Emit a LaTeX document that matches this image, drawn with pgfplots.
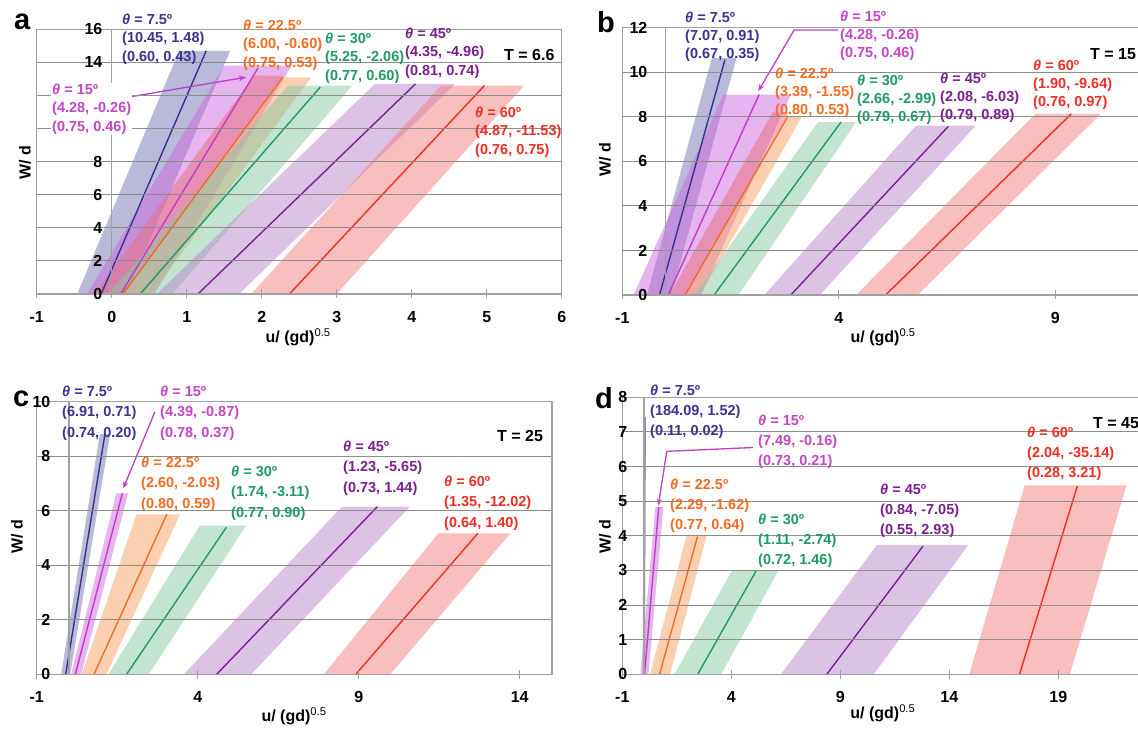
\documentclass[border=0pt]{standalone}
\usepackage{fontspec}
\setmainfont{Liberation Sans}
\usepackage{pgfplots}
\pgfplotsset{compat=1.18}
\usetikzlibrary{arrows.meta}
\definecolor{c1}{HTML}{38308C}
\definecolor{c1t}{HTML}{3C3291}
\definecolor{c2}{HTML}{C23BC9}
\definecolor{c2t}{HTML}{C346C3}
\definecolor{c3}{HTML}{F26B21}
\definecolor{c4}{HTML}{1F9A64}
\definecolor{c5}{HTML}{7B1F8E}
\definecolor{c6}{HTML}{EE2D24}
\definecolor{f1}{HTML}{7373B5}
\definecolor{f2}{HTML}{CD69DD}
\definecolor{f3}{HTML}{F7A161}
\definecolor{f3p}{HTML}{EC6E7A}
\definecolor{f4}{HTML}{85C9A1}
\definecolor{f5}{HTML}{B987CD}
\definecolor{f6}{HTML}{F37F7F}
\definecolor{gridc}{HTML}{8C8C8C}
\definecolor{framec}{HTML}{A0A0A0}
\def\annsp{18.5pt}
\newcommand\annfont{\bfseries\fontsize{14.5}{\annsp}\selectfont}
\newcommand{\ann}[6]{\node[anchor=west,align=left,inner sep=0pt,text=#3,font=\annfont] at (#1pt,#2pt) {{\itshape θ} = #4º\\#5\\#6};}
\pgfplotsset{
  panel/.style={
    scale only axis, anchor=south west, axis on top,
    xmin=-1, ymin=0,
    axis line style={framec, line width=1.4pt},
    ymajorgrids, major grid style={gridc, line width=1.1pt},
    xtick pos=bottom, ytick style={draw=none},
    xtick style={framec, line width=1pt},
    tick align=center, major tick length=9pt,
    /pgf/number format/assume math mode=true,
    tick label style={font=\bfseries\fontsize{16}{17}\selectfont},
    xticklabel style={inner sep=0pt, anchor=north, yshift=-12.5pt},
    yticklabel style={inner sep=0pt, anchor=east},
    extra x ticks={0}, extra x tick labels={},
    extra x tick style={grid=major, major tick length=0pt, major grid style={framec, line width=1.3pt}},
    xlabel={u/ (gd)\textsuperscript{\mdseries 0.5}}, ylabel={W/ d},
    label style={font=\bfseries\fontsize{16}{18}\selectfont},
    xlabel style={anchor=center}, ylabel style={anchor=center},
  },
  band/.style={draw=none, fill opacity=0.5},
  dline/.style={line width=1.4pt},
}
\begin{document}
\begin{tikzpicture}
\useasboundingbox (0,0) rectangle (1138pt,731pt);
\clip (0,0) rectangle (1138pt,731pt);

% ---------------- panel a ----------------
\begin{axis}[panel, at={(36.7pt,437pt)}, width=525pt, height=264.7pt, xmax=6, ymax=16,
  xtick={-1,0,...,6}, ytick={0,2,...,16}, yticklabels={0,2,4,6,8,{},{},14,16},
  yticklabel style={xshift=70.3pt},
  xlabel style={at={(axis description cs:0.498,0)}, yshift=-43pt},
  ylabel style={at={(axis description cs:0,0.495)}, yshift=11.7pt}]
\addplot[band, fill=f1] coordinates {(-0.46,0) (0.20,0) (1.58,14.7) (0.90,14.7)} -- cycle;
\addplot[band, fill=f2] coordinates {(-0.33,0) (0.57,0) (2.40,13.8) (1.50,13.8)} -- cycle;
\addplot[band, fill=f3p] coordinates {(-0.23,0) (0.15,0) (2.28,13.2) (1.90,13.2)} -- cycle;
\addplot[band, fill=f3] coordinates {(0.15,0) (0.53,0) (2.66,13.1) (2.28,13.1)} -- cycle;
\addplot[band, fill=f4] coordinates {(-0.05,0) (0.81,0) (3.21,12.6) (2.35,12.6)} -- cycle;
\addplot[band, fill=f5] coordinates {(0.60,0) (1.70,0) (4.58,12.7) (3.51,12.7)} -- cycle;
\addplot[band, fill=f6] coordinates {(1.86,0) (3.00,0) (5.50,12.6) (4.39,12.6)} -- cycle;
\addplot[dline, c1] coordinates {(-0.14,0) (1.26,14.7)};
\addplot[dline, c2] coordinates {(0.12,0) (1.95,13.65)};
\addplot[dline, c3] coordinates {(0.15,0) (2.28,13.1)};
\addplot[dline, c4] coordinates {(0.38,0) (2.78,12.5)};
\addplot[dline, c5] coordinates {(1.15,0) (4.05,12.7)};
\addplot[dline, c6] coordinates {(2.37,0) (4.97,12.6)};
\draw[c2, line width=1.3pt, -{Stealth[length=7pt]}] (axis cs:0.09,11.8) -- (axis cs:1.79,13.1);
\end{axis}

% ---------------- panel b ----------------
\begin{axis}[panel, at={(622.3pt,436pt)}, width=519.6pt, height=267.3pt, xmax=11, ymax=12,
  xtick={-1,4,9}, ytick={0,2,...,12}, yticklabel style={xshift=29.7pt},
  xlabel style={at={(axis description cs:0.502,0)}, yshift=-42pt},
  ylabel style={at={(axis description cs:0,0.505)}, yshift=17.3pt}]
\addplot[band, fill=f1] coordinates {(-0.43,0) (0.13,0) (1.64,10.65) (1.07,10.65)} -- cycle;
\addplot[band, fill=f2] coordinates {(-0.74,0) (0.82,0) (2.89,9.0) (1.33,9.0)} -- cycle;
\addplot[band, fill=f3p] coordinates {(0.09,0) (0.45,0) (2.85,8.2) (2.47,8.2)} -- cycle;
\addplot[band, fill=f3] coordinates {(0.45,0) (0.80,0) (3.14,7.98) (2.81,7.98)} -- cycle;
\addplot[band, fill=f4] coordinates {(0.67,0) (1.68,0) (4.40,7.76) (3.52,7.76)} -- cycle;
\addplot[band, fill=f5] coordinates {(2.28,0) (3.56,0) (7.16,7.6) (5.78,7.6)} -- cycle;
\addplot[band, fill=f6] coordinates {(4.40,0) (5.82,0) (10.05,8.13) (8.54,8.13)} -- cycle;
\addplot[dline, c1] coordinates {(-0.14,0) (1.37,10.56)};
\addplot[dline, c2] coordinates {(0.06,0) (2.16,9.0)};
\addplot[dline, c3] coordinates {(0.45,0) (2.81,7.98)};
\addplot[dline, c4] coordinates {(1.12,0) (4.05,7.76)};
\addplot[dline, c5] coordinates {(2.89,0) (6.53,7.57)};
\addplot[dline, c6] coordinates {(5.08,0) (9.37,8.13)};
\draw[c2, line width=1.3pt, -{Stealth[length=7pt]}] (axis cs:3.98,11.9) -- (axis cs:2.97,11.9) -- (axis cs:2.14,9.15);
\end{axis}

% ---------------- panel c ----------------
\begin{axis}[panel, at={(36.7pt,56.7pt)}, width=515.2pt, height=272.6pt, xmax=15, ymax=10,
  xtick={-1,4,9,14}, ytick={0,2,...,10}, yticklabel style={xshift=18.3pt},
  xlabel style={at={(axis description cs:0.4995,0)}, yshift=-42pt},
  ylabel style={at={(axis description cs:0,0.504)}, yshift=19.7pt}]
\addplot[band, fill=f1] coordinates {(-0.24,0) (0.04,0) (1.28,8.81) (0.96,8.81)} -- cycle;
\addplot[band, fill=f2] coordinates {(0.07,0) (0.38,0) (1.84,6.64) (1.47,6.64)} -- cycle;
\addplot[band, fill=f3] coordinates {(0.40,0) (1.17,0) (3.45,5.87) (2.10,5.87)} -- cycle;
\addplot[band, fill=f4] coordinates {(1.23,0) (2.48,0) (5.50,5.45) (4.06,5.45)} -- cycle;
\addplot[band, fill=f5] coordinates {(3.57,0) (5.66,0) (10.59,6.15) (8.48,6.15)} -- cycle;
\addplot[band, fill=f6] coordinates {(7.92,0) (9.98,0) (13.71,5.17) (11.47,5.17)} -- cycle;
\addplot[dline, c1] coordinates {(-0.10,0) (1.12,8.81)};
\addplot[dline, c2] coordinates {(0.20,0) (1.66,6.64)};
\addplot[dline, c3] coordinates {(0.78,0) (3.04,5.87)};
\addplot[dline, c4] coordinates {(1.79,0) (4.89,5.39)};
\addplot[dline, c5] coordinates {(4.59,0) (9.58,6.15)};
\addplot[dline, c6] coordinates {(8.91,0) (12.70,5.17)};
\draw[c2, line width=1.3pt, -{Stealth[length=7pt]}] (axis cs:2.67,9.63) -- (axis cs:1.69,6.82);
\end{axis}

% ---------------- panel d ----------------
\begin{axis}[panel, at={(622.3pt,56.7pt)}, width=523.2pt, height=277pt, xmax=23, ymax=8,
  xtick={-1,4,9,14,19}, ytick={0,1,...,8}, yticklabel style={xshift=9.7pt},
  xlabel style={at={(axis description cs:0.498,0)}, yshift=-39pt},
  ylabel style={at={(axis description cs:0,0.496)}, yshift=17.3pt}]
\addplot[band, fill=f1] coordinates {(-0.06,0) (0.05,0) (0.08,7.43) (-0.03,7.43)} -- cycle;
\addplot[band, fill=f2] coordinates {(-0.17,0) (0.20,0) (0.88,4.83) (0.52,4.83)} -- cycle;
\addplot[band, fill=f3] coordinates {(0.27,0) (1.19,0) (2.87,4.0) (1.95,4.0)} -- cycle;
\addplot[band, fill=f4] coordinates {(1.40,0) (3.53,0) (6.17,3.0) (4.03,3.0)} -- cycle;
\addplot[band, fill=f5] coordinates {(6.28,0) (10.53,0) (14.87,3.73) (10.67,3.73)} -- cycle;
\addplot[band, fill=f6] coordinates {(14.92,0) (19.53,0) (22.13,5.46) (17.46,5.46)} -- cycle;
\addplot[dline, c1] coordinates {(-0.01,0) (0.03,7.43)};
\addplot[dline, c2] coordinates {(0.02,0) (0.67,4.83)};
\addplot[dline, c3] coordinates {(0.71,0) (2.45,3.98)};
\addplot[dline, c4] coordinates {(2.46,0) (5.14,2.99)};
\addplot[dline, c5] coordinates {(8.38,0) (12.79,3.70)};
\addplot[dline, c6] coordinates {(17.22,0) (19.87,5.43)};
\draw[c2, line width=1.3pt, -{Stealth[length=7pt]}] (axis cs:5.0,6.55) -- (axis cs:1.04,6.44) -- (axis cs:0.65,4.87);
\end{axis}

% ---------------- annotations ----------------
\def\annsp{18.5pt}
\ann{122}{692}{c1t}{7.5}{(10.45, 1.48)}{(0.60, 0.43)}
\node[anchor=west,align=left,inner sep=1pt,fill=white,text=c2t,font=\annfont] at (51pt,622pt) {{\itshape θ} = 15º\\(4.28, -0.26)\\(0.75, 0.46)};
\ann{243}{686}{c3}{22.5}{(6.00, -0.60)}{(0.75, 0.53)}
\ann{325}{673}{c4}{30}{(5.25, -2.06)}{(0.77, 0.60)}
\ann{405}{678}{c5}{45}{(4.35, -4.96)}{(0.81, 0.74)}
\ann{475}{599}{c6}{60}{(4.87, -11.53)}{(0.76, 0.75)}
\def\annsp{18pt}
\ann{685}{694}{c1t}{7.5}{(7.07, 0.91)}{(0.67, 0.35)}
\ann{840}{695}{c2t}{15}{(4.28, -0.26)}{(0.75, 0.46)}
\ann{775}{638}{c3}{22.5}{(3.39, -1.55)}{(0.80, 0.53)}
\ann{857}{631}{c4}{30}{(2.66, -2.99)}{(0.79, 0.67)}
\ann{940}{633}{c5}{45}{(2.08, -6.03)}{(0.79, 0.89)}
\ann{1033}{646}{c6}{60}{(1.90, -9.64)}{(0.76, 0.97)}
\def\annsp{20.5pt}
\ann{62}{318}{c1t}{7.5}{(6.91, 0.71)}{(0.74, 0.20)}
\ann{160}{318}{c2t}{15}{(4.39, -0.87)}{(0.78, 0.37)}
\ann{141}{247}{c3}{22.5}{(2.60, -2.03)}{(0.80, 0.59)}
\ann{231}{238}{c4}{30}{(1.74, -3.11)}{(0.77, 0.90)}
\ann{343}{263}{c5}{45}{(1.23, -5.65)}{(0.73, 1.44)}
\ann{444}{228}{c6}{60}{(1.35, -12.02)}{(0.64, 1.40)}
\def\annsp{20pt}
\ann{650}{319}{c1t}{7.5}{(184.09, 1.52)}{(0.11, 0.02)}
\ann{758}{289}{c2t}{15}{(7.49, -0.16)}{(0.73, 0.21)}
\ann{670}{225}{c3}{22.5}{(2.29, -1.62)}{(0.77, 0.64)}
\ann{758}{190}{c4}{30}{(1.11, -2.74)}{(0.72, 1.46)}
\ann{880}{220}{c5}{45}{(0.84, -7.05)}{(0.55, 2.93)}
\ann{1027}{277}{c6}{60}{(2.04, -35.14)}{(0.28, 3.21)}

\node[anchor=west,inner sep=0pt,font=\bfseries\fontsize{16}{18}\selectfont] at (504pt,676pt) {T = 6.6};
\node[anchor=west,inner sep=0pt,font=\bfseries\fontsize{16}{18}\selectfont] at (1090pt,677pt) {T = 15};
\node[anchor=west,inner sep=0pt,font=\bfseries\fontsize{16}{18}\selectfont] at (497pt,295pt) {T = 25};
\node[anchor=west,inner sep=0pt,font=\bfseries\fontsize{16}{18}\selectfont] at (1093pt,308pt) {T = 45};

\node[anchor=base west,inner sep=0pt,font=\bfseries\fontsize{29}{30}\selectfont] at (14pt,701pt) {a};
\node[anchor=base west,inner sep=0pt,font=\bfseries\fontsize{29}{30}\selectfont] at (597pt,698pt) {b};
\node[anchor=base west,inner sep=0pt,font=\bfseries\fontsize{29}{30}\selectfont] at (13pt,324pt) {c};
\node[anchor=base west,inner sep=0pt,font=\bfseries\fontsize{29}{30}\selectfont] at (595pt,322pt) {d};
\end{tikzpicture}
\end{document}
